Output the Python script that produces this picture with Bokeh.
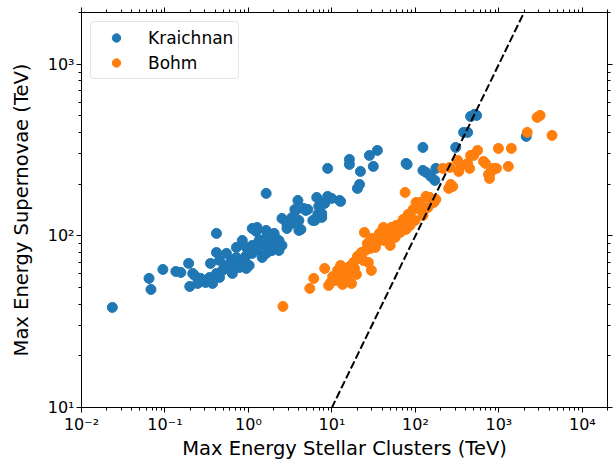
from bokeh.plotting import figure
from bokeh.models import (Range1d, LogAxis, FixedTicker, CustomJSTickFormatter, Legend,
                          CustomLabelingPolicy)
from bokeh.embed import file_html
from bokeh.resources import INLINE

# Maximum energies (TeV) for each source under two diffusion models
kraichnan_x = [0.0234, 0.0644, 0.068, 0.0944, 0.135, 0.155, 0.192, 0.198, 0.215, 0.246,
               0.227, 0.307, 0.342, 0.351, 0.371, 0.414, 0.414, 0.414, 0.45, 0.45,
               0.488, 0.545, 0.591, 0.642, 0.642, 0.716, 0.716, 0.778, 0.844, 0.844,
               0.942, 0.942, 0.942, 1.02, 1.11, 1.11, 1.11, 1.24, 1.27, 1.34,
               1.34, 1.46, 1.63, 1.63, 1.63, 1.63, 1.63, 1.77, 1.77, 1.92,
               2.03, 2.03, 2.14, 2.32, 2.52, 2.52, 2.32, 2.89, 2.89, 3.32,
               3.32, 3.6, 3.7, 3.91, 4.02, 4.02, 4.25, 4.61, 4.87, 5.14,
               5.9, 6.23, 6.58, 6.76, 6.95, 7.34, 7.55, 7.55, 8.19, 8.89,
               8.89, 9.92, 12.35, 12.69, 16.2, 16.2, 20.2, 21.4, 21.95, 28.1,
               31.3, 35.0, 77.3, 79.5, 123, 123, 134, 153, 171, 176,
               304, 378, 422, 458, 511, 540, 2125, 1.205, 1.584, 0.267,
               0.53, 0.697, 0.892, 1.27, 3.06, 2.03]
kraichnan_y = [38.3, 56.5, 48.7, 63.7, 62.0, 61.2, 69.1, 50.7, 60.4, 52.8,
               58.8, 53.5, 57.2, 69.1, 52.8, 103.3, 80.0, 60.4, 57.2, 71.9,
               62.9, 79.0, 69.1, 60.4, 71.9, 85.6, 74.8, 65.4, 94.0, 69.1,
               85.6, 76.9, 64.6, 67.2, 110.4, 87.9, 79.0, 106.1, 111.9, 94.0,
               87.9, 74.8, 107.5, 95.3, 87.9, 79.0, 176.7, 94.0, 82.2, 82.2,
               100.5, 85.6, 85.6, 94.0, 126.3, 87.9, 82.2, 116.5, 110.4, 128.0,
               118.1, 142.5, 140.6, 160.8, 122.9, 107.5, 109.0, 144.4, 140.6, 142.5,
               122.9, 122.9, 167.4, 133.3, 148.4, 156.5, 135.1, 128.0, 154.5, 247.1,
               169.7, 165.2, 160.8, 158.7, 278.7, 260.7, 188.9, 199.3, 237.3, 294.1,
               253.8, 314.6, 264.2, 260.7, 327.4, 240.5, 234.2, 221.9, 210.3, 247.1,
               327.4, 400.6, 400.6, 496, 510, 503, 379.6, 107.5, 96.6, 56.5,
               64.6, 66.3, 73.8, 83.3, 121.3, 103.3]

bohm_x = [2.59, 5.43, 6.06, 8.19, 9.65, 11.07, 11.69, 12.69, 13.78, 15.38,
          17.16, 18.62, 20.22, 24.49, 25.17, 27.33, 29.67, 31.33, 33.09, 29.67,
          35.93, 39.01, 41.21, 43.52, 45.97, 49.91, 52.72, 57.23, 51.29, 65.62,
          67.45, 71.25, 75.25, 77.33, 77.33, 88.68, 93.67, 98.95, 101.7, 107.4,
          113.4, 123.2, 123.2, 133.7, 141.3, 149.2, 175.9, 166.5, 213.0, 257.9,
          250.9, 265.1, 280.0, 321.1, 330.0, 348.7, 422.3, 446.1, 458.5, 497.7,
          555.2, 654.4, 691.2, 750.4, 771.2, 792.6, 860.7, 934.3, 986.7, 1297,
          1409, 2183, 2871, 3117, 4329, 21.36, 22.56, 18.12, 14.56, 12.02,
          10.2, 9.14, 13.41, 16.24, 28.87, 34.01, 36.93, 47.25, 54.18, 58.81,
          81.68, 86.28, 62.13, 23.82, 19.67, 14.96, 42.35, 26.59]
bohm_y = [38.8, 49.4, 56.5, 64.6, 53.5, 55.0, 62.9, 67.2, 55.7, 60.4,
          52.8, 64.6, 75.9, 104.7, 82.2, 70.0, 62.9, 87.9, 85.6, 96.6,
          95.3, 97.9, 111.9, 107.5, 100.5, 87.9, 107.5, 97.9, 111.9, 104.7,
          118.1, 124.6, 179.0, 122.9, 109.0, 128.0, 142.5, 122.9, 156.5, 144.4,
          156.5, 140.6, 131.5, 169.7, 146.3, 167.4, 163.0, 156.5, 247.1, 250.4,
          188.9, 199.3, 194.0, 275.0, 237.3, 257.3, 264.2, 247.1, 294.1, 294.1,
          314.6, 271.4, 264.2, 227.9, 216.0, 234.2, 247.1, 247.1, 323.1, 253.8,
          323.1, 400.6, 489.8, 503, 384.7, 73.8, 80.0, 70.0, 62.9, 59.6,
          58.0, 51.4, 52.1, 66.3, 84.5, 90.3, 103.3, 94.0, 101.9, 115.0,
          133.3, 115.0, 110.4, 71.9, 59.6, 57.2, 94.0, 90.3]

# one-to-one reference line (y = x)
equal_line = [1e-2, 1e5]

x_ticks = [1e-2, 1e-1, 1e0, 1e1, 1e2, 1e3, 1e4]
y_ticks = [1e1, 1e2, 1e3]
x_limits = (1e-2, 2e4)
y_limits = (1e1, 2e3)

FONT = "DejaVu Sans"


def minor_between(major, lo, hi):
    out = []
    for t in [major[0] / 10] + major:
        for m in range(2, 10):
            v = t * m
            if lo <= v <= hi:
                out.append(v)
    return out


x_ticker = FixedTicker(ticks=x_ticks, minor_ticks=minor_between(x_ticks, *x_limits))
y_ticker = FixedTicker(ticks=y_ticks, minor_ticks=minor_between(y_ticks, *y_limits))

pow_fmt = CustomJSTickFormatter(code="""
const sup = {"-": "\u207b", "0": "\u2070", "1": "\u00b9", "2": "\u00b2", "3": "\u00b3",
             "4": "\u2074", "5": "\u2075", "6": "\u2076", "7": "\u2077", "8": "\u2078", "9": "\u2079"};
const e = Math.round(Math.log10(tick));
return "10" + String(e).split("").map(c => sup[c]).join("");
""")

p = figure(width=616, height=463, x_axis_type="log", y_axis_type="log",
           x_range=Range1d(*x_limits), y_range=Range1d(*y_limits),
           output_backend="svg", toolbar_location=None,
           min_border_left=81, min_border_right=5, min_border_top=12, min_border_bottom=56)

p.xgrid.visible = False
p.ygrid.visible = False
p.outline_line_color = "black"
p.outline_line_width = 1
p.background_fill_color = "white"
p.border_fill_color = "white"

for ax, ticker in ((p.xaxis[0], x_ticker), (p.yaxis[0], y_ticker)):
    ax.ticker = ticker
    ax.formatter = pow_fmt
    ax.major_label_text_font = FONT
    ax.major_label_text_font_size = "16px"
    ax.major_label_text_color = "black"
    ax.axis_label_text_font = FONT
    ax.axis_label_text_font_size = "19.5px"
    ax.axis_label_text_font_style = "normal"
    ax.axis_label_text_color = "black"
    ax.axis_line_color = "black"
    ax.major_tick_line_color = "black"
    ax.minor_tick_line_color = "black"
    ax.major_tick_out = 5
    ax.major_tick_in = 0
    ax.minor_tick_out = 3
    ax.minor_tick_in = 0
    ax.major_label_standoff = 2

p.xaxis.axis_label = "Max Energy Stellar Clusters (TeV)"
p.yaxis.axis_label = "Max Energy Supernovae (TeV)"
p.xaxis.axis_label_standoff = 0
p.yaxis.axis_label_standoff = 12

# tick marks on the top and right spines, with no labels drawn
no_labels = CustomLabelingPolicy(code="return new Set()")
for ticker, side in ((x_ticker, "above"), (y_ticker, "right")):
    extra = LogAxis(ticker=ticker, formatter=pow_fmt, major_label_policy=no_labels)
    extra.major_label_text_font_size = "1px"
    extra.major_label_standoff = 0
    extra.axis_line_color = "black"
    extra.major_tick_out = 5
    extra.major_tick_in = 0
    extra.minor_tick_out = 3
    extra.minor_tick_in = 0
    p.add_layout(extra, side)

k = p.scatter(kraichnan_x, kraichnan_y, size=10, marker="circle",
              fill_color="#1f77b4", line_color="#1f77b4")
b = p.scatter(bohm_x, bohm_y, size=10, marker="circle",
              fill_color="#ff7f0e", line_color="#ff7f0e")
p.line(equal_line, equal_line, line_color="black", line_width=2, line_dash="8 3")

legend = Legend(items=[("Kraichnan", [k]), ("Bohm", [b])], location="top_left")
legend.label_text_font = FONT
legend.label_text_font_size = "17px"
legend.label_text_color = "black"
legend.border_line_color = "#cccccc"
legend.border_line_width = 1
legend.background_fill_alpha = 0.8
legend.margin = 9
legend.padding = 5
legend.spacing = 4
legend.glyph_width = 40
legend.glyph_height = 21
legend.label_height = 21
legend.label_standoff = 12
if "border_radius" in Legend.properties():
    legend.border_radius = 4
p.add_layout(legend)

open("out.html", "w").write(file_html(p, INLINE))
